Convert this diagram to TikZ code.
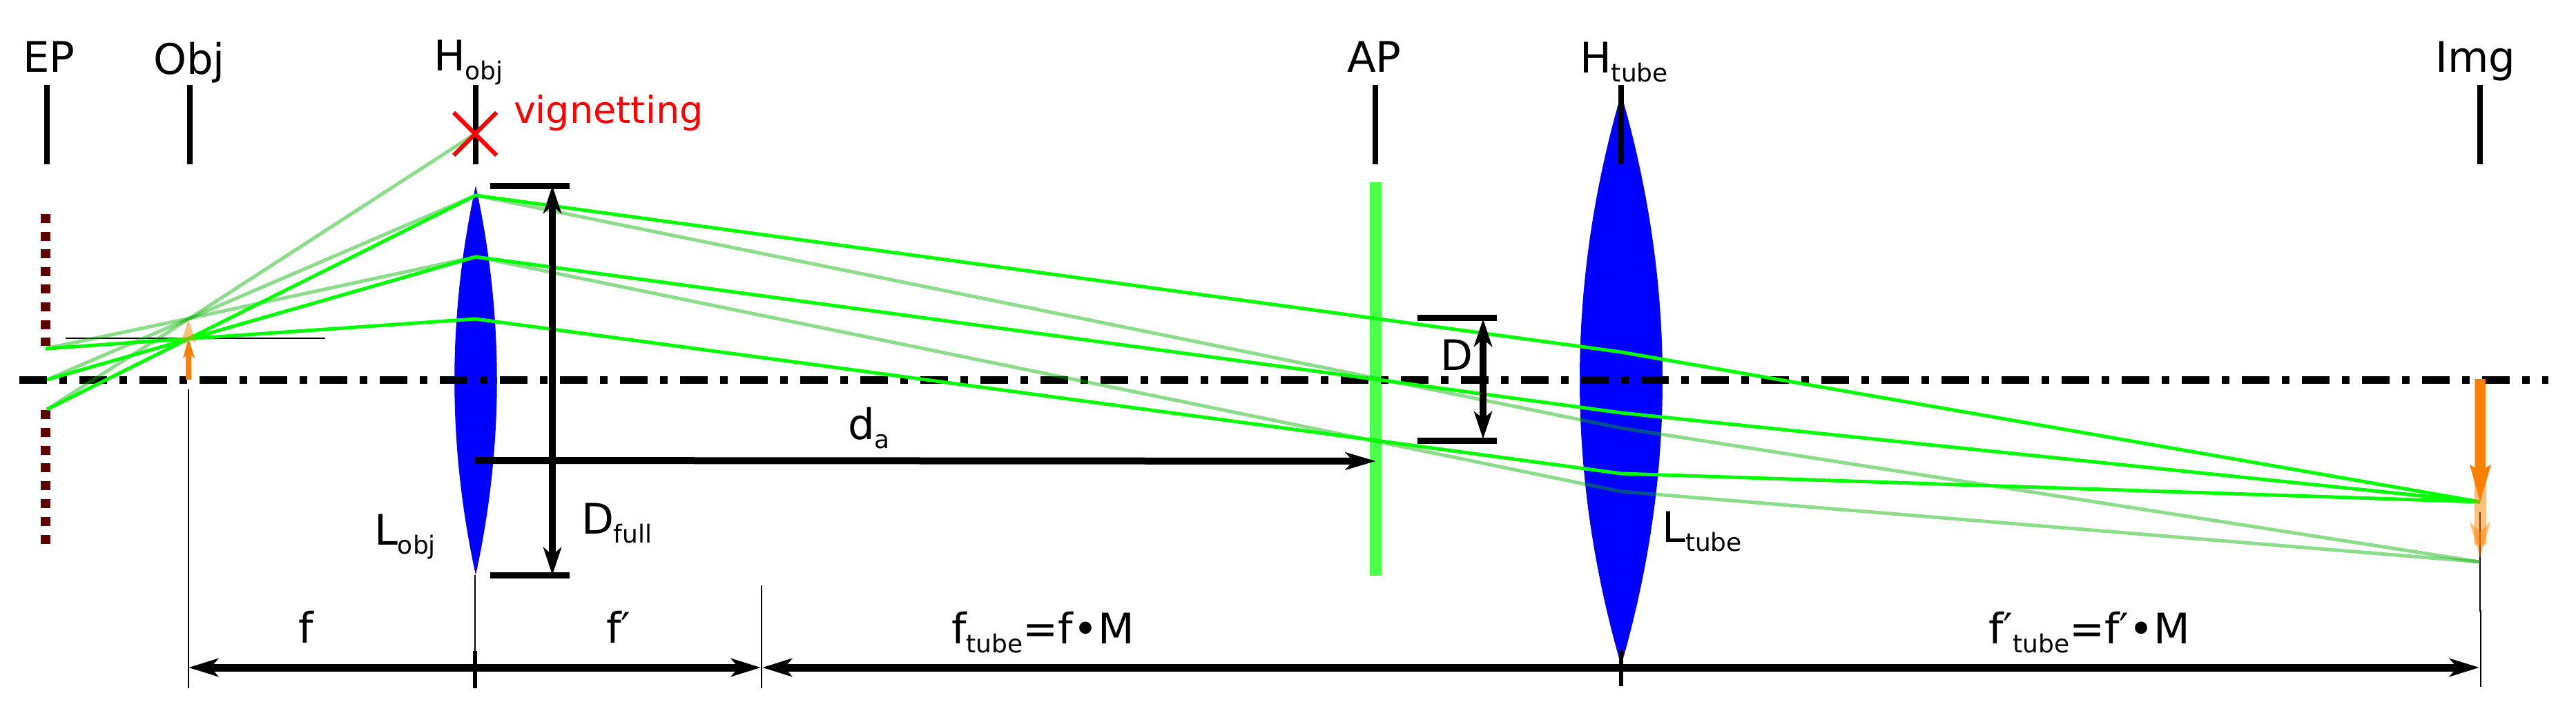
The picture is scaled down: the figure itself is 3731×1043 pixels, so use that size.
\documentclass[tikz,border=0pt]{standalone}
\usepackage{fontspec}
\setmainfont{DejaVu Sans}
\usetikzlibrary{arrows.meta}
\definecolor{rayg}{rgb}{0,1,0}
\definecolor{rayl}{rgb}{0,0.7,0}
\definecolor{apg}{HTML}{4DFF4D}
\definecolor{epc}{HTML}{5F0000}
\definecolor{orng}{HTML}{FF8000}
\newcommand{\subtxt}[1]{\raisebox{-13pt}{\fontsize{36}{40}\selectfont #1}}
\tikzset{
  x=1pt,y=-1pt,
  lab/.style={inner sep=0pt,outer sep=0pt,anchor=base west,font=\fontsize{61}{66}\selectfont},
  plane/.style={line width=8pt},
  thinline/.style={line width=2pt},
  ray/.style={rayg,line width=5pt,line join=round},
  ghostray/.style={rayl,opacity=0.45,line width=5pt,line join=round},
  lensfill/.style={fill=blue},
  capline/.style={line width=9pt},
  tickm/.style={line width=6pt},
  dimline/.style={line width=11pt,{Stealth[length=43pt,width=26pt,inset=11pt]}-{Stealth[length=43pt,width=26pt,inset=11pt]}},
  oneway/.style={line width=10pt,-{Stealth[length=44pt,width=25pt,inset=11pt]}},
  twoway/.style={line width=10pt,{Stealth[length=40pt,width=26pt,inset=11pt]}-{Stealth[length=40pt,width=26pt,inset=11pt]}},
}
\begin{document}
\begin{tikzpicture}
\useasboundingbox[fill=white] (0,0) rectangle (3731,1043);
% coordinates
\coordinate (e1) at (66,505);\coordinate (e2) at (68,550);\coordinate (e3) at (68,593);
\coordinate (l1) at (689,462);\coordinate (l2) at (689,372);\coordinate (l3) at (689,283);
\coordinate (t1) at (2348,686);\coordinate (t2) at (2348,598);\coordinate (t3) at (2348,510);
\coordinate (u1) at (2348,712);\coordinate (u2) at (2348,620);
\coordinate (im) at (3592,727);\coordinate (im2) at (3592,814);
\coordinate (vx) at (688,194);\coordinate (ob2) at (275,461);
% lenses and stop
\fill[lensfill] (689,269) .. controls (730,457) and (730,645) .. (689,833)
                          .. controls (648,645) and (648,457) .. (689,269) -- cycle;
\fill[lensfill] (2348,136) .. controls (2428,412) and (2428,688) .. (2348,964)
                          .. controls (2268,688) and (2268,412) .. (2348,136) -- cycle;
\fill[apg] (1983.5,264) rectangle (2000.5,834);
% entrance pupil
\draw[epc,line width=14pt,dash pattern=on 13pt off 12.6pt] (66,310) -- (66,501);
\draw[epc,line width=14pt,dash pattern=on 13pt off 12.8pt] (66,594) -- (66,788);
% planes
\foreach \px in {68,275,689,1992,2348,3592} \draw[plane] (\px,123) -- (\px,238);
% optical axis
\draw[line width=11pt,dash pattern=on 40pt off 18pt on 11pt off 18pt] (28,550) -- (3691,550);
% thin lines
\draw[thinline] (95,490) -- (471,490);
\draw[thinline] (273,564) -- (273,997);
\draw[thinline] (688,833) -- (688,945);
\draw[thinline] (1103,848) -- (1103,997);
\draw[thinline] (3592,742) -- (3592,885) -- (3593,885) -- (3593,995);
% rays
\draw[ghostray] (e1) -- (ob2) -- (l2) -- (u1) -- (im2);
\draw[ghostray] (e2) -- (ob2) -- (l3) -- (u2) -- (im2);
\draw[ghostray] (e3) -- (ob2) -- (vx);
\draw[ray] (e1) -- (l1) -- (t1) -- (im);
\draw[ray] (e2) -- (l2) -- (t2) -- (im);
\draw[ray] (e3) -- (l3) -- (t3) -- (im);
% vignetting mark
\draw[red,line width=6pt] (657,163) -- (719,225);
\draw[red,line width=6pt] (657,225) -- (719,163);
% orange arrows
\fill[orng,opacity=0.5] (273,463) -- (284,497) -- (273,490) -- (262,497) -- cycle;
\fill[orng] (269,550) rectangle (277,510);
\fill[orng] (273,490) -- (282,519) -- (273,512) -- (265,519) -- cycle;
\fill[orng,opacity=0.5] (3584,549) rectangle (3601,789);
\fill[orng,opacity=0.5] (3592,808) -- (3607,756) -- (3592,770) -- (3577,756) -- cycle;
\fill[orng] (3585,549) rectangle (3599,690);
\fill[orng] (3592,727) -- (3608,673) -- (3592,682) -- (3577,673) -- cycle;
% dimensions
\draw[capline] (710,269) -- (825,269);
\draw[capline] (710,833) -- (825,833);
\draw[twoway] (800,269) -- (800,833);
\draw[capline] (2053,460) -- (2168,460);
\draw[capline] (2053,638) -- (2168,638);
\draw[twoway] (2148,462) -- (2148,636);
\draw[oneway] (687,667) -- (1993,668);
\draw[dimline] (273,967) -- (1102,967);
\draw[dimline] (1104,967) -- (3591,967);
\draw[tickm] (688,943) -- (688,997);
\draw[tickm] (2348,942) -- (2348,994);
% labels
\node[lab] (tEP) at (33,105) {EP};
\node[lab] (tObj) at (222,108) {Obj};
\node[lab] (tHo) at (628,103) {H\subtxt{obj}};
\node[lab,red,font=\fontsize{54}{60}\selectfont] (tV) at (744,179) {vignetting};
\node[lab] (tAP) at (1951,105) {AP};
\node[lab] (tHt) at (2288,106) {H\subtxt{tube}};
\node[lab] (tImg) at (3527,105) {Img};
\node[lab] (tLo) at (542,789) {L\subtxt{obj}};
\node[lab] (tDf) at (842,773) {D\subtxt{full}};
\node[lab] (tda) at (1228,636) {d\subtxt{a}};
\node[lab] (tD) at (2086,536) {D};
\node[lab] (tLt) at (2407,785) {L\subtxt{tube}};
\node[lab] (tf) at (432,931) {f};
\node[lab] (tfp) at (878,931) {f′};
\node[lab] (tft) at (1378,932) {f\subtxt{tube}=f•M};
\node[lab] (tfpt) at (2880,932) {f′\subtxt{tube}=f′•M};
\end{tikzpicture}
\end{document}
